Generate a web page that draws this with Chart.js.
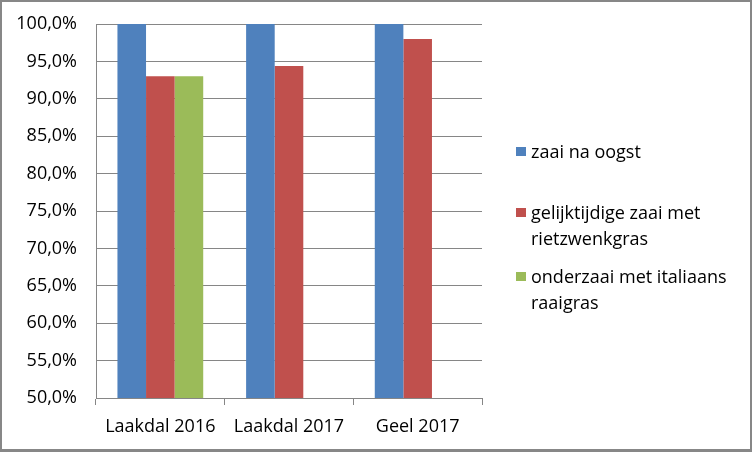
<!DOCTYPE html>
<html><head><meta charset="utf-8">
<script src="https://cdn.jsdelivr.net/npm/chart.js@4"></script>
<style>
html,body{margin:0;padding:0;background:#fff;}
#frame{position:absolute;left:0;top:0;width:752px;height:452px;box-sizing:border-box;border:2px solid #878787;border-bottom-width:3px;background:#fff;}
#wrap{position:absolute;left:2px;top:2px;width:748px;height:447px;}
.leg{position:absolute;font-family:"Open Sans",sans-serif;font-size:18px;line-height:26px;color:#000;white-space:nowrap;}
.sw{position:absolute;width:10px;height:9px;}
</style></head>
<body>
<div id="frame"></div>
<div id="wrap"><canvas id="c"></canvas></div>
<div id="legend"></div>
<script>
const categories = ["Laakdal 2016", "Laakdal 2017", "Geel 2017"];
const seriesNames = ["zaai na oogst", "gelijktijdige zaai met rietzwenkgras", "onderzaai met italiaans raaigras"];
const legendLines = [["zaai na oogst"], ["gelijktijdige zaai met", "rietzwenkgras"], ["onderzaai met italiaans", "raaigras"]];
const zaaiNaOogst = [100, 100, 100];
const gelijktijdig = [93.0, 94.4, 98.0];
const onderzaai = [93.0, null, null];
const colors = ["#4F81BD", "#C0504D", "#9BBB59"];
const yMin = 50, yMax = 100, yStep = 5;

const FONT = {family: '"Open Sans", sans-serif', size: 18};
const GRID = "#868686";

new Chart(document.getElementById('c'), {
  type: 'bar',
  data: {
    labels: categories,
    datasets: [zaaiNaOogst, gelijktijdig, onderzaai].map((d, i) => ({
      label: seriesNames[i], data: d, backgroundColor: colors[i], borderWidth: 0,
      categoryPercentage: 3 / 4.5, barPercentage: 1
    }))
  },
  options: {
    responsive: true, maintainAspectRatio: false, animation: false,
    layout: {padding: {top: 22, right: 268, bottom: 0, left: 0}},
    plugins: {legend: {display: false}, tooltip: {enabled: false}},
    scales: {
      x: {
        grid: {offset: true, drawOnChartArea: false, tickLength: 7, color: GRID, lineWidth: 1},
        border: {display: true, color: GRID, width: 1},
        ticks: {font: FONT, color: '#000', padding: 11, maxRotation: 0},
        afterFit: s => { s.height = 51; s.paddingLeft = 0; s.paddingRight = 0; }
      },
      y: {
        min: yMin, max: yMax,
        grid: {drawTicks: false, color: GRID, lineWidth: 1},
        border: {display: true, color: GRID, width: 1},
        ticks: {stepSize: yStep, font: FONT, color: '#000', padding: 19,
          callback: v => v.toFixed(1).replace('.', ',') + '%'},
        afterFit: s => { s.width = 94; s.paddingTop = 0; s.paddingBottom = 0; }
      }
    }
  }
});

// HTML legend
const legendTops = [138, 199, 263];
const lg = document.getElementById('legend');
legendLines.forEach((lines, i) => {
  const sw = document.createElement('div');
  sw.className = 'sw';
  sw.style.background = colors[i];
  sw.style.left = '516px';
  sw.style.top = (legendTops[i] + 9) + 'px';
  lg.appendChild(sw);
  const t = document.createElement('div');
  t.className = 'leg';
  t.style.left = '531px';
  t.style.top = legendTops[i] + 'px';
  t.innerHTML = lines.join('<br>');
  lg.appendChild(t);
});
</script>
</body></html>
